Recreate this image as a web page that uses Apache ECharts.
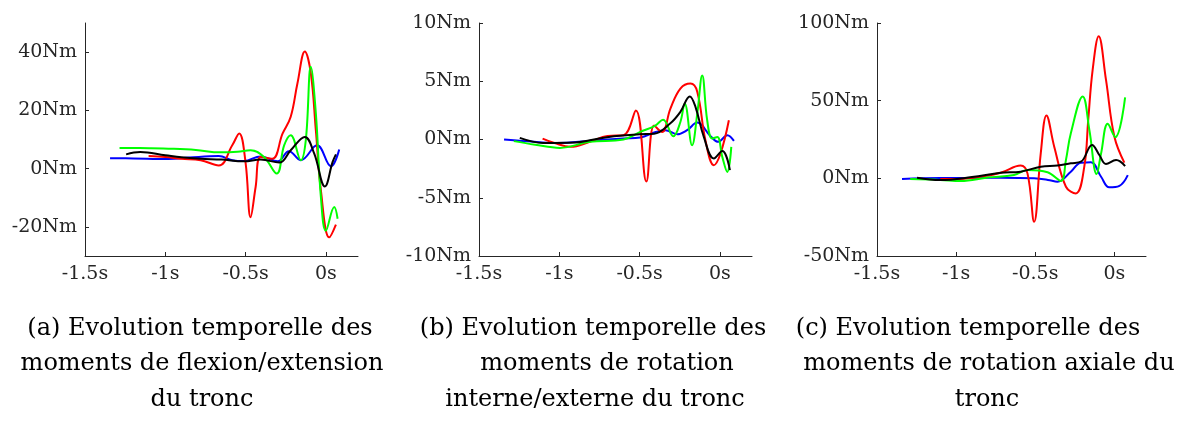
<!DOCTYPE html>
<html>
<head>
<meta charset="utf-8">
<script src="https://cdn.jsdelivr.net/npm/echarts@6/dist/echarts.min.js"></script>
<style>
    html, body { margin: 0; padding: 0; background: #fff; }
    #momentsBox { width: 1183px; height: 425px; }
</style>
</head>
<body>
<div id="momentsBox"></div>
<script>
// ticks
var timeTicks = [-1.5, -1, -0.5, 0];
var flexTicks = [-20, 0, 20, 40];
var rotTicks = [-10, -5, 0, 5, 10];
var axialTicks = [-50, 0, 50, 100];

// (a) flexion/extension
var flexBlueT = [-1.344, -1.2, -0.98, -0.85, -0.667, -0.583, -0.51, -0.406, -0.30, -0.23, -0.156, -0.055, 0.031, 0.083];
var flexBlueV = [3.6, 3.5, 3.3, 3.8, 4.3, 2.9, 2.6, 4.2, 2.5, 6.0, 2.9, 8.0, 0.8, 6.6];
var flexRedT = [-1.104, -1.0, -0.9, -0.78, -0.667, -0.583, -0.54, -0.5, -0.469, -0.4375, -0.406, -0.333, -0.27, -0.219, -0.177, -0.131, -0.094, -0.0625, -0.031, 0.021, 0.0625];
var flexRedV = [4.3, 4.0, 3.4, 2.9, 1.1, 8.0, 12.1, 2.0, -16.7, -6.3, 4.0, 3.4, 12.0, 17.8, 29.3, 40.2, 32.8, 13.2, -7.5, -23.6, -19.2];
var flexGreenT = [-1.285, -1.1, -0.95, -0.81, -0.656, -0.55, -0.469, -0.385, -0.306, -0.26, -0.219, -0.156, -0.125, -0.094, -0.0625, -0.031, 0.0, 0.052, 0.073];
var flexGreenV = [7.1, 7.0, 6.8, 6.4, 5.6, 5.8, 6.3, 4.0, -1.7, 8.0, 11.5, 2.9, 9.8, 35.0, 19.0, -9.8, -21.3, -13.2, -17.2];
var flexBlackT = [-1.244, -1.156, -1.0, -0.9, -0.78, -0.65, -0.51, -0.406, -0.29, -0.219, -0.131, -0.073, -0.006, 0.042, 0.0625];
var flexBlackV = [4.9, 5.7, 4.6, 3.9, 3.4, 3.1, 2.5, 3.1, 2.1, 6.3, 10.9, 5.2, -6.1, 2.3, 4.9];

// (b) rotation interne/externe
var rotBlueT = [-1.344, -1.2, -1.016, -0.8, -0.6, -0.496, -0.4, -0.34, -0.266, -0.204, -0.141, -0.058, -0.01, 0.046, 0.0875];
var rotBlueV = [0, -0.15, -0.29, -0.1, 0.08, 0.17, 0.65, 0.8, 0.45, 0.8, 1.45, 0.28, -0.2, 0.37, -0.12];
var rotRedT = [-1.104, -1.03, -0.93, -0.81, -0.7, -0.6, -0.523, -0.458, -0.41, -0.36, -0.308, -0.246, -0.183, -0.141, -0.09, -0.0375, 0.004, 0.056];
var rotRedV = [0.08, -0.3, -0.63, -0.2, 0.3, 0.37, 2.5, -3.6, 1.2, 0.65, 2.65, 4.37, 4.8, 4.1, -0.06, -2.2, -1.2, 1.65];
var rotGreenT = [-1.283, -1.15, -0.996, -0.81, -0.6, -0.496, -0.402, -0.354, -0.29, -0.246, -0.219, -0.173, -0.141, -0.11, -0.079, -0.048, -0.016, 0.015, 0.046, 0.071];
var rotGreenV = [-0.14, -0.45, -0.72, -0.2, 0, 0.65, 1.2, 1.7, 0.28, 1.5, 3.1, -0.49, 2.2, 5.5, 1.65, 0.08, 0.22, -1.49, -2.78, -0.63];
var rotBlackT = [-1.246, -1.1, -0.9, -0.81, -0.66, -0.5, -0.41, -0.31, -0.246, -0.1875, -0.152, -0.1, -0.0375, 0.015, 0.0625];
var rotBlackV = [0.14, -0.29, -0.25, -0.06, 0.28, 0.45, 0.5, 1.37, 2.37, 3.7, 2.8, 0.22, -1.63, -0.98, -2.63];

// (c) rotation axiale
var axialBlueT = [-1.342, -1.1, -0.9, -0.718, -0.507, -0.42, -0.359, -0.275, -0.211, -0.148, -0.084, -0.032, 0.032, 0.085];
var axialBlueV = [-0.5, 0.2, 0.2, 0.4, 0, -1.0, -2.2, 4.3, 10.1, 10.3, 1.0, -5.8, -4.8, 2.1];
var axialRedT = [-1.1, -0.95, -0.845, -0.718, -0.592, -0.549, -0.507, -0.465, -0.429, -0.38, -0.306, -0.243, -0.19, -0.165, -0.137, -0.099, -0.053, 0, 0.063];
var axialRedV = [-0.5, -0.2, 1.0, 3.6, 8.2, 3.2, -28, 16.2, 40.5, 20.4, -5.4, -9.7, 7.5, 37.7, 70, 91.5, 63.5, 26.9, 10.1];
var axialGreenT = [-1.29, -1.1, -0.972, -0.8, -0.634, -0.549, -0.422, -0.338, -0.306, -0.275, -0.2, -0.158, -0.112, -0.084, -0.042, 0.006, 0.068];
var axialGreenV = [-0.5, -1.0, -1.7, 0.5, 2.1, 5.4, 3.9, -1.7, 11.8, 29, 52.7, 31.2, 2.8, 16, 35.1, 26.5, 52.1];
var axialBlackT = [-1.247, -1.1, -0.9, -0.718, -0.592, -0.465, -0.359, -0.275, -0.211, -0.141, -0.095, -0.053, 0.011, 0.068];
var axialBlackV = [0.4, -1.1, 0.8, 3.6, 4.3, 7.5, 8.2, 9.7, 10.7, 21.5, 15, 9.2, 11.8, 7.9];

var captionLines = [
    ['(a) Evolution temporelle des', 'moments de flexion/extension', 'du tronc'],
    ['(b) Evolution temporelle des', 'moments de rotation', 'interne/externe du tronc'],
    ['(c) Evolution temporelle des', 'moments de rotation axiale du', 'tronc']
];

var axisColor = '#262626';
var fontName = 'DejaVu Serif';

function pairs(t, v) {
    return t.map(function (x, i) { return [x, v[i]]; });
}

function makeLine(idx, t, v, color) {
    return {
        type: 'line',
        xAxisIndex: idx,
        yAxisIndex: idx,
        data: pairs(t, v),
        smooth: 0.4,
        showSymbol: false,
        lineStyle: { color: color, width: 2 },
        silent: true
    };
}

function makeXAxis(idx) {
    return {
        type: 'value',
        gridIndex: idx,
        min: -1.5,
        max: 0.2,
        splitLine: { show: false },
        axisLine: { onZero: false, lineStyle: { color: axisColor, width: 1 } },
        axisTick: { inside: true, length: 4, customValues: timeTicks, lineStyle: { color: axisColor } },
        axisLabel: {
            customValues: timeTicks,
            margin: 9,
            color: axisColor,
            fontFamily: fontName,
            fontSize: 19,
            formatter: function (val) { return val + 's'; }
        }
    };
}

function makeYAxis(idx, min, max, ticks) {
    return {
        type: 'value',
        gridIndex: idx,
        min: min,
        max: max,
        splitLine: { show: false },
        axisLine: { show: true, onZero: false, lineStyle: { color: axisColor, width: 1 } },
        axisTick: { show: true, inside: true, length: 4, customValues: ticks, lineStyle: { color: axisColor } },
        axisLabel: {
            customValues: ticks,
            margin: 8,
            color: axisColor,
            fontFamily: fontName,
            fontSize: 19,
            formatter: function (val) { return val + 'Nm'; }
        }
    };
}

// captions, one text element per line
var captionX = [[200, 202, 202], [593, 607, 595], [968, 989, 987]];
var captionY = [329, 364, 400];
var graphics = [];
captionLines.forEach(function (lines, i) {
    lines.forEach(function (txt, j) {
        graphics.push({
            type: 'text',
            x: captionX[i][j],
            y: captionY[j],
            style: {
                text: txt,
                fill: '#000',
                font: '24px "' + fontName + '"',
                textAlign: 'center',
                textVerticalAlign: 'middle'
            }
        });
    });
});

var option_moments = {
    animation: false,
    backgroundColor: '#fff',
    grid: [
        { left: 85, top: 23, width: 273, height: 233 },
        { left: 479, top: 23, width: 273, height: 233 },
        { left: 877, top: 23, width: 269, height: 233 }
    ],
    xAxis: [makeXAxis(0), makeXAxis(1), makeXAxis(2)],
    yAxis: [
        makeYAxis(0, -30, 50, flexTicks),
        makeYAxis(1, -10, 10, rotTicks),
        makeYAxis(2, -50, 100, axialTicks)
    ],
    series: [
        makeLine(0, flexBlueT, flexBlueV, '#0000ff'),
        makeLine(0, flexRedT, flexRedV, '#ff0000'),
        makeLine(0, flexGreenT, flexGreenV, '#00ff00'),
        makeLine(0, flexBlackT, flexBlackV, '#000000'),
        makeLine(1, rotBlueT, rotBlueV, '#0000ff'),
        makeLine(1, rotRedT, rotRedV, '#ff0000'),
        makeLine(1, rotGreenT, rotGreenV, '#00ff00'),
        makeLine(1, rotBlackT, rotBlackV, '#000000'),
        makeLine(2, axialBlueT, axialBlueV, '#0000ff'),
        makeLine(2, axialRedT, axialRedV, '#ff0000'),
        makeLine(2, axialGreenT, axialGreenV, '#00ff00'),
        makeLine(2, axialBlackT, axialBlackV, '#000000')
    ],
    graphic: graphics
};

var myChart_moments = echarts.init(document.getElementById('momentsBox'));
myChart_moments.setOption(option_moments);
</script>
</body>
</html>
